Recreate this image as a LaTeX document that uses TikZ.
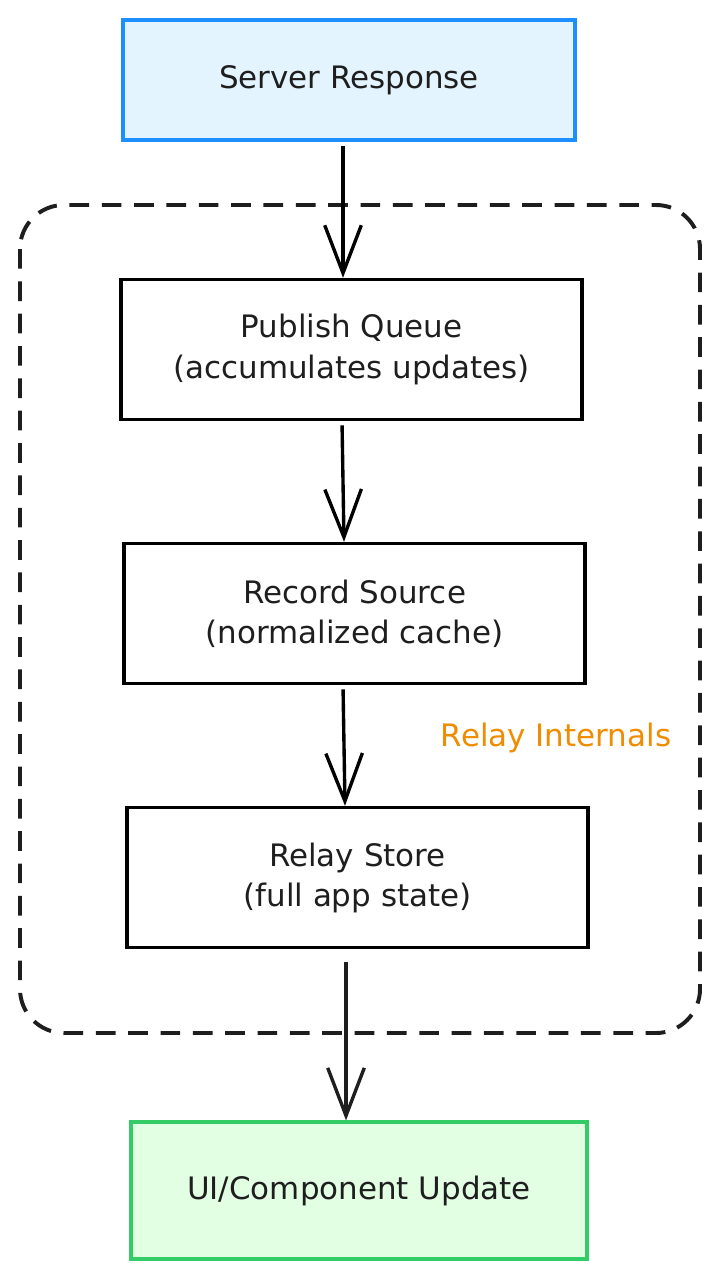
\documentclass[tikz,border=0pt]{standalone}
\usepackage{fontspec}
\setmainfont{DejaVu Sans}
\usetikzlibrary{arrows.meta,positioning}
\definecolor{srvblue}{HTML}{1E8FFF}
\definecolor{srvfill}{HTML}{E3F4FF}
\definecolor{uigreen}{HTML}{33CC66}
\definecolor{uifill}{HTML}{E3FFE3}
\definecolor{relayorange}{HTML}{F08C00}
\definecolor{ink}{HTML}{1E1E1E}
\tikzset{
  stage/.style={draw=black, line width=2.4pt, minimum width=11.53cm, minimum height=3.5cm,
    align=center, font=\fontsize{22}{28.5}\selectfont, text=ink},
  flow/.style={draw=black, line width=2.4pt, -{Straight Barb[length=34pt,width=26pt,line width=2.4pt]}}
}
\begin{document}
\begin{tikzpicture}[x=0.025cm,y=-0.025cm]
\useasboundingbox (0,0) rectangle (721,1280);
\draw[ink, line width=2.8pt, dash pattern=on 14pt off 9pt, rounded corners=1.1cm] (20,205) rectangle (700,1033);
\node[text=relayorange, font=\fontsize{22}{28}\selectfont] (lbl) at (556,738) {Relay Internals};
\node[stage, draw=srvblue, fill=srvfill, minimum width=11.3cm, minimum height=3cm] (server) at (349,80) {Server Response};
\node[stage] (queue) at (351.5,349.5) {Publish Queue\\(accumulates updates)};
\node[stage] (source) at (354.5,613.5) {Record Source\\(normalized cache)};
\node[stage] (store) at (357.5,877.5) {Relay Store\\(full app state)};
\node[stage, draw=uigreen, fill=uifill, minimum width=11.4cm, minimum height=3.42cm] (ui) at (359,1190.5) {UI/Component Update};
\draw[flow, shorten <=3pt] (server.south -| 343,0) -- (queue.north -| 343,0);
\draw[flow, shorten <=3pt] (queue.south -| 342,0) -- (source.north -| 344,0);
\draw[flow, shorten <=3pt] (source.south -| 343,0) -- (store.north -| 345,0);
\draw[flow, draw=ink, shorten <=9pt] (store.south -| 346,0) -- (ui.north -| 346,0);
\end{tikzpicture}
\end{document}
